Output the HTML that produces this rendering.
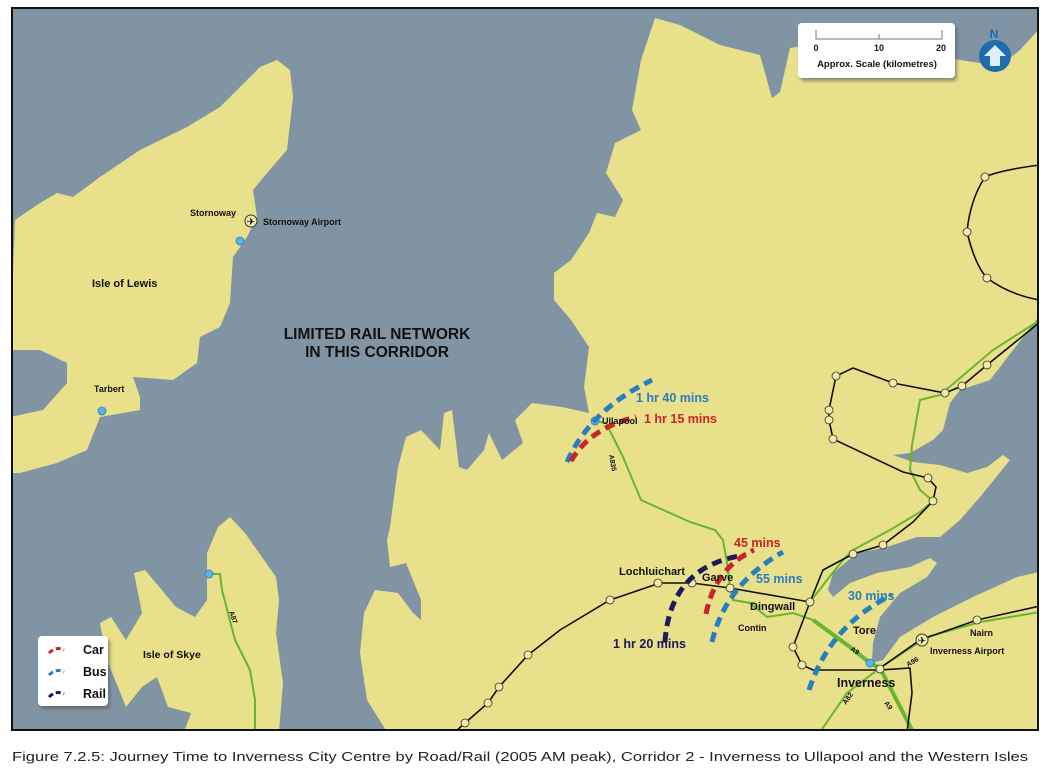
<!DOCTYPE html>
<html><head><meta charset="utf-8"><style>
body{margin:0;background:#fff;width:1052px;height:772px;overflow:hidden;font-family:"Liberation Sans",sans-serif}
svg{position:absolute;left:0;top:0}
</style></head><body>
<svg width="1052" height="772" viewBox="0 0 1052 772" xmlns="http://www.w3.org/2000/svg" font-family="Liberation Sans, sans-serif">
<defs><clipPath id="c"><rect x="12" y="8" width="1026" height="722"/></clipPath>
<filter id="sh" x="-10%" y="-10%" width="130%" height="140%"><feDropShadow dx="2" dy="3" stdDeviation="1.5" flood-color="#555" flood-opacity="0.6"/></filter></defs>
<g clip-path="url(#c)">
<rect x="12" y="8" width="1026" height="722" fill="#8194a3"/>
<path fill="#e8e08a" d="M15,220 L40,203 57,193 73,197 100,177 140,150 187,127 220,107 260,67 277,60 290,70 293,97 287,150 267,173 253,190 257,217 247,237 233,257 230,303 220,327 200,337 197,363 173,380 133,377 140,397 140,410 100,417 87,450 57,463 20,473 10,473 10,417 43,410 67,383 67,363 40,350 10,350 Z"/>
<path fill="#e8e08a" d="M230,517 L245,533 276,577 279,600 276,633 283,683 279,732 184,732 191,713 168,707 157,677 142,687 126,707 107,660 100,623 111,617 126,640 142,613 134,573 145,570 176,607 195,617 207,600 207,553 218,527 Z"/>
<path fill="#e8e08a" d="M655,18 L680,25 720,45 760,55 772,98 780,92 790,48 830,42 900,45 960,60 1000,66 1020,50 1040,28 1040,732 387,732 367,700 360,653 364,613 375,590 398,593 413,613 421,620 421,600 406,563 390,567 387,540 390,527 398,467 406,437 421,430 440,450 444,413 452,410 459,467 467,470 484,450 489,433 502,460 523,443 515,420 532,403 562,407 589,413 584,387 589,347 571,320 554,300 554,273 571,260 589,233 597,213 615,217 623,200 606,173 615,143 641,130 632,110 641,60 Z"/>
<path fill="#8194a3" d="M1040,315 L1000,367 990,380 960,390 950,403 943,430 933,440 910,453 893,455 913,462 940,465 967,473 987,467 1003,455 1010,460 980,497 960,520 940,537 917,537 887,547 857,553 833,573 828,590 833,597 850,583 877,573 910,567 930,558 937,563 927,577 900,593 880,617 873,643 872,663 883,660 900,637 933,617 973,597 1017,577 1040,572 Z"/>
<g fill="none" stroke="#6ab52e" stroke-width="2">
<path d="M207,574 L220,574 222,590 235,640 250,670 255,700 255,732"/>
<path d="M595,421 L606,423 623,457 641,500 690,522 715,530 723,540 727,563 730,588 733,600 750,603 767,617 793,613 813,620"/>
<path d="M880,668 L927,637 980,622 1040,612"/>
<path d="M880,668 L847,693 820,732"/>
<path d="M810,602 L827,580 843,560 853,550 890,530 920,512 933,501 920,490 910,470 912,445 920,400 940,395 993,350 1040,320"/>
</g>
<path d="M813,620 L850,647 870,663 880,668 893,693 913,732" fill="none" stroke="#6ab52e" stroke-width="4"/>
<g fill="none" stroke="#111" stroke-width="1.6">
<path d="M455,732 L465,723 488,703 499,687 528,655 560,630 610,600 660,583 692,583 730,588 810,602"/>
<path d="M810,602 L823,570 853,554 883,545 913,522 933,501 936,487 928,478 903,472 833,439 829,420 829,410 836,376 853,368 893,383 945,393 962,386 987,365 1040,322"/>
<path d="M1040,165 Q1000,170 985,177 Q970,200 967,232 Q975,265 987,278 Q1010,295 1040,300"/>
<path d="M810,602 L793,647 802,665 813,670 880,670 910,668 912,693 907,732"/>
<path d="M880,668 L920,640 977,620 1040,606"/>
</g>
<g fill="#f3eca8" stroke="#333" stroke-width="0.8">
<circle cx="985" cy="177" r="4"/><circle cx="967" cy="232" r="4"/><circle cx="987" cy="278" r="4"/>
<circle cx="987" cy="365" r="4"/><circle cx="962" cy="386" r="4"/><circle cx="945" cy="393" r="4"/>
<circle cx="893" cy="383" r="4"/><circle cx="836" cy="376" r="4"/><circle cx="829" cy="410" r="4"/>
<circle cx="829" cy="420" r="4"/><circle cx="833" cy="439" r="4"/><circle cx="928" cy="478" r="4"/>
<circle cx="933" cy="501" r="4"/><circle cx="853" cy="554" r="4"/><circle cx="883" cy="545" r="4"/>
<circle cx="810" cy="602" r="4"/><circle cx="793" cy="647" r="4"/><circle cx="802" cy="665" r="4"/>
<circle cx="880" cy="669" r="4"/><circle cx="977" cy="620" r="4"/><circle cx="692" cy="583" r="4"/>
<circle cx="658" cy="583" r="4"/><circle cx="610" cy="600" r="4"/><circle cx="730" cy="588" r="4"/>
<circle cx="528" cy="655" r="4"/><circle cx="499" cy="687" r="4"/><circle cx="488" cy="703" r="4"/><circle cx="465" cy="723" r="4"/>
</g>
<g fill="#5ab4e8" stroke="#2a7ec0" stroke-width="0.8">
<circle cx="240" cy="241" r="4"/><circle cx="102" cy="411" r="4"/><circle cx="209" cy="574" r="4"/><circle cx="595" cy="421" r="4"/><circle cx="870" cy="663" r="4"/>
</g>
<circle cx="251" cy="221" r="6" fill="#f3eca8" stroke="#333"/><text x="251" y="225" font-size="10" text-anchor="middle">✈</text>
<circle cx="922" cy="640" r="6" fill="#f3eca8" stroke="#333"/><text x="922" y="644" font-size="10" text-anchor="middle">✈</text>
<g fill="none" stroke-width="5" stroke-dasharray="10,6">
<path d="M567,462 Q590,410 652,380" stroke="#2a7ec0"/>
<path d="M571,461 Q590,428 636,417" stroke="#cc2229"/>
<path d="M665,642 Q670,565 746,555" stroke="#1c1a5a"/>
<path d="M706,614 Q715,568 754,550" stroke="#cc2229"/>
<path d="M712,642 Q725,585 783,552" stroke="#2a7ec0"/>
<path d="M809,690 Q830,625 892,595" stroke="#2a7ec0"/>
</g>
<g font-weight="bold" fill="#111">
<text x="190" y="216" font-size="9">Stornoway</text>
<text x="263" y="225" font-size="9">Stornoway Airport</text>
<text x="92" y="287" font-size="11">Isle of Lewis</text>
<text x="94" y="392" font-size="9">Tarbert</text>
<text x="377" y="339" font-size="15.5" text-anchor="middle">LIMITED RAIL NETWORK</text>
<text x="377" y="357" font-size="15.5" text-anchor="middle">IN THIS CORRIDOR</text>
<text x="143" y="658" font-size="10.5">Isle of Skye</text>
<text x="602" y="424" font-size="9">Ullapool</text>
<text x="619" y="575" font-size="11">Lochluichart</text>
<text x="702" y="581" font-size="11">Garve</text>
<text x="750" y="610" font-size="11">Dingwall</text>
<text x="738" y="631" font-size="9">Contin</text>
<text x="853" y="634" font-size="11">Tore</text>
<text x="837" y="687" font-size="12.5">Inverness</text>
<text x="970" y="636" font-size="9">Nairn</text>
<text x="930" y="654" font-size="9">Inverness Airport</text>
<text x="0" y="0" font-size="7" transform="translate(229,612) rotate(70)">A87</text>
<text x="0" y="0" font-size="7" transform="translate(609,455) rotate(80)">A835</text>
<text x="0" y="0" font-size="7" transform="translate(850,650) rotate(35)">A9</text>
<text x="0" y="0" font-size="7" transform="translate(846,705) rotate(-55)">A82</text>
<text x="0" y="0" font-size="7" transform="translate(884,703) rotate(55)">A9</text>
<text x="0" y="0" font-size="7" transform="translate(908,667) rotate(-30)">A96</text>
</g>
<g font-weight="bold" font-size="12.5">
<text x="636" y="402" fill="#2a7ec0">1 hr 40 mins</text>
<text x="644" y="423" fill="#cc2229">1 hr 15 mins</text>
<text x="734" y="547" fill="#cc2229">45 mins</text>
<text x="756" y="583" fill="#2a7ec0">55 mins</text>
<text x="613" y="648" fill="#1c1a5a">1 hr 20 mins</text>
<text x="848" y="600" fill="#2a7ec0">30 mins</text>
</g>
<rect x="38" y="636" width="70" height="70" rx="4" fill="#fff" filter="url(#sh)"/>
<g fill="none" stroke-width="3" stroke-dasharray="5,3">
<path d="M49,653 Q56,646 64,650" stroke="#cc2229"/>
<path d="M49,675 Q56,668 64,672" stroke="#2a7ec0"/>
<path d="M49,697 Q56,690 64,694" stroke="#1c1a5a"/>
</g>
<g font-weight="bold" font-size="12.5" fill="#111">
<text x="83" y="654">Car</text><text x="83" y="676">Bus</text><text x="83" y="698">Rail</text>
</g>
<rect x="798" y="23" width="157" height="55" rx="4" fill="#fff" filter="url(#sh)"/>
<path d="M816,30 L816,39 L942,39 L942,30 M879,34 L879,39" stroke="#777" fill="none"/>
<g font-weight="bold" font-size="9" fill="#111">
<text x="816" y="51" text-anchor="middle">0</text><text x="879" y="51" text-anchor="middle">10</text><text x="941" y="51" text-anchor="middle">20</text>
<text x="877" y="67" font-size="9.5" text-anchor="middle">Approx. Scale (kilometres)</text>
</g>
<text x="994" y="38" font-size="12" font-weight="bold" fill="#1e6bb0" text-anchor="middle">N</text>
<circle cx="995" cy="56" r="16" fill="#1e6bb0"/>
<path d="M995,45 L1006,56 L1000,56 L1000,66 L990,66 L990,56 L984,56 Z" fill="#dff0fb"/>
</g>
<rect x="12" y="8" width="1026" height="722" fill="none" stroke="#111" stroke-width="2"/>
<text x="12" y="761" font-size="13" fill="#222" textLength="1016" lengthAdjust="spacingAndGlyphs">Figure 7.2.5: Journey Time to Inverness City Centre by Road/Rail (2005 AM peak), Corridor 2 - Inverness to Ullapool and the Western Isles</text>
</svg>
</body></html>
